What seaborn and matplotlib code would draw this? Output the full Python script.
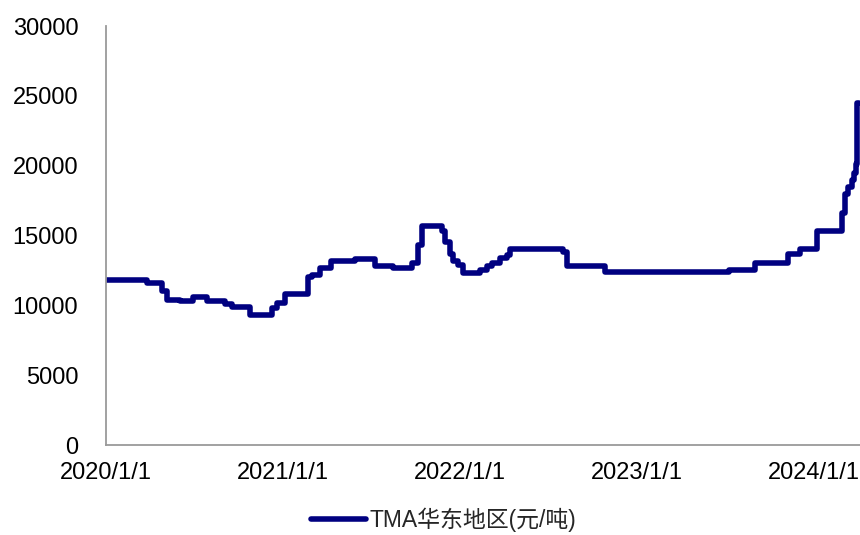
import matplotlib
matplotlib.use("Agg")
import matplotlib.pyplot as plt
import seaborn as sns
import pandas as pd

dates = ["2020-01-01", "2020-03-25", "2020-04-07", "2020-04-25", "2020-05-05",
         "2020-06-01", "2020-06-28", "2020-07-27", "2020-09-02", "2020-09-17",
         "2020-10-24", "2020-12-08", "2020-12-19", "2021-01-04", "2021-02-21",
         "2021-03-01", "2021-03-17", "2021-04-09", "2021-05-29", "2021-07-09",
         "2021-08-15", "2021-09-23", "2021-10-06", "2021-10-14", "2021-11-24",
         "2021-11-30", "2021-12-11", "2021-12-17", "2021-12-27", "2022-01-07",
         "2022-02-11", "2022-02-25", "2022-03-08", "2022-03-24", "2022-04-07",
         "2022-04-13", "2022-08-01", "2022-08-09", "2022-10-27", "2023-07-11",
         "2023-09-01", "2023-11-08", "2023-12-03", "2024-01-07", "2024-02-28",
         "2024-03-05", "2024-03-11", "2024-03-19", "2024-03-25", "2024-03-29",
         "2024-03-31", "2024-04-04"]
prices = [11800, 11600, 11600, 11000, 10400,
          10300, 10600, 10300, 10100, 9900,
          9300, 9800, 10200, 10800, 12000,
          12200, 12700, 13200, 13300, 12800,
          12700, 13000, 14300, 15700, 15300,
          14500, 13700, 13200, 12900, 12300,
          12500, 12800, 13000, 13400, 13600,
          14000, 13800, 12800, 12400, 12500,
          13000, 13700, 14000, 15300, 16600,
          18000, 18500, 19000, 19500, 20100,
          24500, 24500]
series_name = "TMA华东地区(元/吨)"
y_ticks = [0, 5000, 10000, 15000, 20000, 25000, 30000]
x_ticks = ["2020-01-01", "2021-01-01", "2022-01-01", "2023-01-01", "2024-01-01"]

df = pd.DataFrame({"date": pd.to_datetime(dates), "price": prices, "series": series_name})

sns.set_style("white")
plt.rcParams["font.family"] = ["Liberation Sans", "Noto Sans CJK SC", "DejaVu Sans"]

fig = plt.figure(figsize=(8.6, 5.35), dpi=100)
ax = fig.add_axes([0.1233, 0.1682, 0.877, 0.7832])

sns.lineplot(data=df, x="date", y="price", hue="series", palette=["#000080"],
             ax=ax, linewidth=4.0, drawstyle="steps-post", legend=True)
for ln in ax.get_lines():
    ln.set_solid_joinstyle("round")
    ln.set_solid_capstyle("round")

ax.set_xlim(pd.Timestamp("2020-01-01"), pd.Timestamp("2024-04-06"))
ax.set_ylim(0, 30000)
ax.set_yticks(y_ticks)
ax.set_yticklabels([str(v) for v in y_ticks])
ax.set_xticks(pd.to_datetime(x_ticks))
ax.set_xticklabels([f"{d.year}/{d.month}/{d.day}" for d in pd.to_datetime(x_ticks)])
ax.set_xlabel("")
ax.set_ylabel("")

for s in ["top", "right"]:
    ax.spines[s].set_visible(False)
for s in ["left", "bottom"]:
    ax.spines[s].set_color("#9a9a9a")
    ax.spines[s].set_linewidth(1.3)

ax.tick_params(axis="both", which="major", direction="out", length=5,
               width=1.3, color="#9a9a9a", labelsize=17, labelcolor="black")
ax.tick_params(axis="y", pad=15)
ax.tick_params(axis="x", pad=7)

leg = ax.legend(loc="upper center", bbox_to_anchor=(0.448, -0.112), frameon=False,
                fontsize=16.5, handlelength=2.4, handletextpad=0.15,
                borderpad=0.2)
for line in leg.get_lines():
    line.set_linewidth(4.0)

fig.savefig("out.png", dpi=100)
